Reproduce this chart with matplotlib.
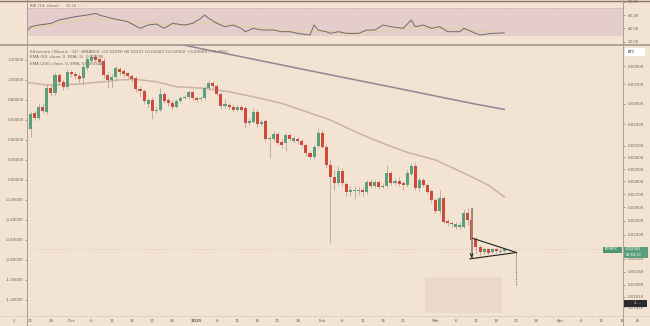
import numpy as np
import pandas as pd
import matplotlib
matplotlib.use("Agg")
import matplotlib.pyplot as plt
import matplotlib.dates as mdates
from matplotlib.ticker import NullLocator
from matplotlib.lines import Line2D
from matplotlib.patches import Rectangle

# daily ETH/BTC candles, first candle 2024-11-20
first_day = pd.Timestamp("2024-11-20")
opens = [
    0.03360, 0.03255, 0.03408, 0.03360, 0.03468, 0.03418, 0.03663, 0.03610, 0.03802, 0.03726,
    0.03673, 0.03835, 0.03813, 0.03791, 0.03769, 0.03880, 0.03958, 0.04004, 0.03981, 0.03958,
    0.03802, 0.03748, 0.03780, 0.03868, 0.03846, 0.03824, 0.03791, 0.03769, 0.03652, 0.03631,
    0.03498, 0.03538, 0.03428, 0.03438, 0.03600, 0.03538, 0.03508, 0.03468, 0.03528, 0.03559,
    0.03569, 0.03621, 0.03559, 0.03548, 0.03559, 0.03663, 0.03716, 0.03684, 0.03600, 0.03478,
    0.03488, 0.03468, 0.03438, 0.03468, 0.03458, 0.03312, 0.03322, 0.03418, 0.03303, 0.03331,
    0.03163, 0.03163, 0.03209, 0.03136, 0.03127, 0.03200, 0.03145, 0.03163, 0.03145, 0.03109,
    0.03038, 0.03004, 0.03100, 0.03218, 0.03091, 0.02935, 0.02836, 0.02787, 0.02885, 0.02779,
    0.02716, 0.02724, 0.02724, 0.02732, 0.02716, 0.02795, 0.02763, 0.02795, 0.02755, 0.02763,
    0.02868, 0.02787, 0.02803, 0.02787, 0.02771, 0.02860, 0.02927, 0.02748, 0.02811, 0.02771,
    0.02724, 0.02654, 0.02572, 0.02670, 0.02499, 0.02485, 0.02456, 0.02456, 0.02456, 0.02557,
    0.02506, 0.02373, 0.02319, 0.02286, 0.02305, 0.02286, 0.02305, 0.02286, 0.02290,
]
highs = [
    0.03379, 0.03428, 0.03428, 0.03498, 0.03508, 0.03705, 0.03694, 0.03835, 0.03824, 0.03748,
    0.03868, 0.03857, 0.03835, 0.03824, 0.03924, 0.04004, 0.04038, 0.04038, 0.04015, 0.03992,
    0.03835, 0.03813, 0.03902, 0.03891, 0.03868, 0.03846, 0.03813, 0.03791, 0.03684, 0.03652,
    0.03559, 0.03569, 0.03478, 0.03663, 0.03621, 0.03559, 0.03538, 0.03548, 0.03579, 0.03589,
    0.03641, 0.03641, 0.03579, 0.03579, 0.03684, 0.03748, 0.03737, 0.03705, 0.03621, 0.03548,
    0.03508, 0.03498, 0.03488, 0.03488, 0.03478, 0.03360, 0.03458, 0.03448, 0.03351, 0.03351,
    0.03190, 0.03237, 0.03227, 0.03163, 0.03218, 0.03218, 0.03190, 0.03181, 0.03163, 0.03127,
    0.03056, 0.03109, 0.03265, 0.03246, 0.03118, 0.02978, 0.02893, 0.02927, 0.02910, 0.02795,
    0.02763, 0.02763, 0.02755, 0.02755, 0.02811, 0.02820, 0.02811, 0.02811, 0.02787, 0.02935,
    0.02885, 0.02828, 0.02836, 0.02803, 0.02893, 0.02952, 0.02961, 0.02836, 0.02828, 0.02787,
    0.02740, 0.02670, 0.02732, 0.02685, 0.02513, 0.02499, 0.02492, 0.02492, 0.02586, 0.02594,
    0.02601, 0.02386, 0.02332, 0.02319, 0.02312, 0.02312, 0.02312, 0.02312, 0.02321,
]
lows = [
    0.03227, 0.03181, 0.03341, 0.03341, 0.03408, 0.03399, 0.03579, 0.03589, 0.03694, 0.03641,
    0.03652, 0.03780, 0.03758, 0.03726, 0.03694, 0.03857, 0.03936, 0.03947, 0.03913, 0.03769,
    0.03663, 0.03663, 0.03758, 0.03802, 0.03780, 0.03758, 0.03726, 0.03621, 0.03579, 0.03498,
    0.03458, 0.03351, 0.03408, 0.03418, 0.03508, 0.03478, 0.03448, 0.03458, 0.03508, 0.03548,
    0.03548, 0.03538, 0.03518, 0.03528, 0.03538, 0.03641, 0.03663, 0.03579, 0.03448, 0.03458,
    0.03448, 0.03418, 0.03428, 0.03428, 0.03265, 0.03293, 0.03312, 0.03274, 0.03284, 0.03145,
    0.02995, 0.03145, 0.03109, 0.03082, 0.03056, 0.03145, 0.03127, 0.03118, 0.03091, 0.03012,
    0.02986, 0.02986, 0.03082, 0.03082, 0.02910, 0.02346, 0.02732, 0.02771, 0.02763, 0.02685,
    0.02685, 0.02662, 0.02693, 0.02685, 0.02701, 0.02748, 0.02748, 0.02740, 0.02748, 0.02748,
    0.02771, 0.02771, 0.02763, 0.02732, 0.02755, 0.02844, 0.02732, 0.02724, 0.02755, 0.02701,
    0.02631, 0.02557, 0.02549, 0.02477, 0.02463, 0.02456, 0.02442, 0.02442, 0.02449, 0.02470,
    0.02332, 0.02279, 0.02266, 0.02273, 0.02273, 0.02279, 0.02279, 0.02279, 0.02283,
]
closes = [
    0.03246, 0.03399, 0.03360, 0.03468, 0.03428, 0.03663, 0.03610, 0.03802, 0.03726, 0.03673,
    0.03835, 0.03813, 0.03791, 0.03758, 0.03891, 0.03981, 0.04004, 0.03969, 0.03947, 0.03802,
    0.03748, 0.03780, 0.03880, 0.03835, 0.03813, 0.03791, 0.03758, 0.03652, 0.03631, 0.03528,
    0.03538, 0.03428, 0.03438, 0.03600, 0.03528, 0.03508, 0.03468, 0.03528, 0.03559, 0.03569,
    0.03621, 0.03559, 0.03538, 0.03559, 0.03663, 0.03716, 0.03684, 0.03600, 0.03478, 0.03498,
    0.03468, 0.03438, 0.03468, 0.03438, 0.03312, 0.03331, 0.03418, 0.03303, 0.03322, 0.03163,
    0.03172, 0.03209, 0.03127, 0.03109, 0.03200, 0.03163, 0.03172, 0.03145, 0.03109, 0.03038,
    0.03004, 0.03091, 0.03218, 0.03091, 0.02935, 0.02836, 0.02787, 0.02885, 0.02787, 0.02716,
    0.02732, 0.02732, 0.02732, 0.02716, 0.02795, 0.02763, 0.02795, 0.02755, 0.02763, 0.02868,
    0.02787, 0.02803, 0.02779, 0.02771, 0.02868, 0.02927, 0.02748, 0.02811, 0.02771, 0.02716,
    0.02654, 0.02572, 0.02670, 0.02492, 0.02485, 0.02477, 0.02477, 0.02470, 0.02557, 0.02506,
    0.02366, 0.02319, 0.02286, 0.02305, 0.02279, 0.02305, 0.02292, 0.02293, 0.02302,
]

# indicator lines, days counted from 2024-11-21
ema50_days = [-1, 4, 11, 18, 22, 26, 31, 36, 43, 49, 56, 62, 74, 81, 87, 93, 100, 108, 113, 117]
ema50 = [0.03723, 0.03694, 0.03702, 0.03729, 0.03748, 0.03755, 0.03729, 0.03676, 0.03659, 0.03624,
         0.03562, 0.03505, 0.03341, 0.03215, 0.03124, 0.03044, 0.02978, 0.02852, 0.02771, 0.02679]
ema200_days = [30, 40, 50, 60, 70, 80, 90, 100, 110, 117]
ema200 = [0.04220, 0.04122, 0.04026, 0.03932, 0.03840, 0.03751, 0.03665, 0.03579, 0.03496, 0.03444]

rsi_days = [-1, 0, 2, 5, 7, 9, 11, 14, 16, 17, 20, 22, 24, 27, 29, 31, 33, 35, 38, 40,
            42, 43, 44, 46, 48, 50, 52, 53, 55, 57, 60, 62, 64, 66, 69, 70, 71, 73, 74, 76,
            78, 81, 83, 85, 87, 89, 92, 94, 95, 97, 99, 101, 103, 106, 107, 109, 111, 114, 117]
rsi = [35, 42.5, 45, 47.5, 52.5, 55, 57.5, 60, 62.5, 60, 55, 52.5, 50, 40, 45, 46.5, 40, 47.5, 45, 47.5,
       55, 60, 55, 47.5, 42.5, 45, 40, 35, 40, 37.5, 37.5, 35, 35, 32.5, 30, 45, 37.5, 35, 32.5, 35,
       32.5, 32.5, 37.5, 37.5, 45, 42.5, 40, 52.5, 42.5, 45, 40, 42.5, 35, 35, 40, 35, 30, 32.5, 33.26]
rsi_ma_days = [0, 9, 15, 21, 29, 38, 42, 46, 50, 58, 66, 73, 81, 89, 95, 100, 107, 117]
rsi_ma = [40, 50, 55, 52.5, 47.5, 45, 47.5, 50, 45, 40, 35, 35, 33.5, 37.5, 42.5, 42.5, 37.5, 33.5]

price_ticks = [0.03900, 0.03700, 0.03500, 0.03300, 0.03100, 0.03000, 0.02900, 0.02800,
               0.02700, 0.02600, 0.02500, 0.02400, 0.02240, 0.02160, 0.02080, 0.02010, 0.01950]
left_ticks = [1.2, 1.0, 0.8, 0.6, 0.4, 0.2, 0.0, -0.2, -0.4, -0.6, -0.8, -1.0, -1.2]
rsi_ticks = [80, 60, 40, 20]

time_ticks = ["2024-11-21", "2024-11-26", "2024-12-01", "2024-12-06", "2024-12-11", "2024-12-16",
              "2024-12-21", "2024-12-26", "2025-01-01", "2025-01-06", "2025-01-11", "2025-01-16",
              "2025-01-21", "2025-01-26", "2025-02-01", "2025-02-06", "2025-02-11", "2025-02-16",
              "2025-02-21", "2025-03-01", "2025-03-06", "2025-03-11", "2025-03-16", "2025-03-21",
              "2025-03-26", "2025-04-01", "2025-04-06", "2025-04-11", "2025-04-16"]
time_labels = ["21", "26", "Dec", "6", "11", "16", "21", "26", "2025", "6", "11", "16", "21", "26",
               "Feb", "6", "11", "16", "21", "Mar", "6", "11", "16", "21", "26", "Apr", "6", "11", "16"]

# pennant drawing (date, price)
pole = [("2025-03-09 22:00", 0.02594), ("2025-03-09 22:00", 0.02248)]
upper_edge = [("2025-03-10 06:00", 0.02377), ("2025-03-21", 0.02282)]
lower_edge = [("2025-03-09 12:00", 0.02241), ("2025-03-21", 0.02282)]
target = [("2025-03-21", 0.02282), ("2025-03-21", 0.02079)]

BG = "#f2e3d2"
GREEN = "#5a9e7b"
RED = "#d04a3c"
WICK = "#b3a59a"
TXT = "#6e655e"
AXLINE = "#a89e96"

W, H = 650, 326
fig = plt.figure(figsize=(W / 100, H / 100), dpi=100, facecolor=BG)


def fx(px):
    return px / W


def fy(py):
    return 1 - py / H


day0 = mdates.date2num(pd.Timestamp("2024-11-21"))
xlim = (day0 - 0.914, day0 + 146.32)

# main price pane
ax = fig.add_axes([fx(27), fy(316), fx(623) - fx(27), fy(45) - fy(316)], facecolor=BG)
ax.set_yscale("log")
ax.set_xlim(*xlim)
ax.set_ylim(0.019013, 0.041446)

dates = pd.date_range(first_day, periods=len(opens), freq="D")
x = mdates.date2num(dates)
o = np.array(opens)
c = np.array(closes)
hi = np.array(highs)
lo = np.array(lows)
up = c >= o
ax.vlines(x, lo, hi, color=WICK, lw=0.6, zorder=3)
bottom = np.minimum(o, c)
height = np.maximum(np.abs(c - o), bottom * 0.0012)
ax.bar(x, height, bottom=bottom, width=0.75, color=np.where(up, GREEN, RED), linewidth=0, zorder=4)

ax.plot(day0 + np.array(ema50_days), ema50, color="#c8b4a4", lw=1.1, zorder=2)
ax.plot(day0 + np.array(ema200_days), ema200, color="#8f8796", lw=1.1, zorder=2)

# last price line
ax.axhline(closes[-1], color="#dcc3bb", lw=0.6, ls=(0, (1, 1.5)), zorder=1)


def dn(p):
    return mdates.date2num(pd.Timestamp(p[0])), p[1]


# pennant
p0, p1 = dn(pole[0]), dn(pole[1])
ax.plot([p0[0], p1[0]], [p0[1], p1[1]], color="#9c8477", lw=1.3, zorder=5, solid_capstyle="butt")
ax.annotate("", xy=p1, xytext=(p1[0], p1[1] * 1.012),
            arrowprops=dict(arrowstyle="->", color="#222222", lw=0.8, mutation_scale=5), zorder=6)
for edge in (upper_edge, lower_edge):
    a, b = dn(edge[0]), dn(edge[1])
    ax.plot([a[0], b[0]], [a[1], b[1]], color="#222222", lw=0.8, zorder=6)
t0, t1 = dn(target[0]), dn(target[1])
ax.plot([t0[0], t1[0]], [t0[1], t1[1]], color="#444444", lw=0.6, ls=(0, (1, 1.2)), zorder=6)

ax.set_xticks([mdates.date2num(pd.Timestamp(d)) for d in time_ticks])
ax.set_xticklabels(time_labels)
ax.tick_params(axis="x", labelsize=3.0, colors=TXT, length=0, pad=2.2)
for lab in ax.get_xticklabels():
    if lab.get_text() == "2025":
        lab.set_fontweight("bold")
for s in ax.spines.values():
    s.set_visible(False)

# left percent scale (twinx moves the parent's ticks, so set the right scale afterwards)
axl = ax.twinx()
axl.set_ylim(-1.36, 1.35)
axl.yaxis.tick_left()
axl.set_yticks(left_ticks)
axl.set_yticklabels([f"{v:.5f}" for v in left_ticks])
axl.tick_params(axis="y", labelsize=2.9, colors=TXT, length=1.2, width=0.4, pad=1.2)
for s in axl.spines.values():
    s.set_visible(False)

ax.yaxis.tick_right()
ax.yaxis.set_label_position("right")
ax.yaxis.set_minor_locator(NullLocator())
ax.set_yticks(price_ticks)
ax.set_yticklabels([f"{v:.5f}" for v in price_ticks])
ax.tick_params(axis="y", which="both", left=False, labelleft=False, right=True, labelright=True,
               labelsize=2.9, colors=TXT, length=1.2, width=0.4, pad=2.5)

# RSI pane
axr = fig.add_axes([fx(27), fy(44), fx(623) - fx(27), fy(0) - fy(44)], facecolor=BG)
axr.set_xlim(*xlim)
axr.set_ylim(16.55, 82.55)
axr.axhspan(30, 70, color="#e5cdcc", lw=0, zorder=0)
for lvl in (70, 30):
    axr.axhline(lvl, color="#9e9090", lw=0.5, ls=(0, (1, 2)), zorder=1)
axr.plot(day0 + np.array(rsi_ma_days), rsi_ma, color="#e2cfa2", lw=1.0, zorder=2)
axr.plot(day0 + np.array(rsi_days), rsi, color="#6f6a6a", lw=0.7, zorder=3)
axr.set_xticks([])
axr.yaxis.tick_right()
axr.set_yticks(rsi_ticks)
axr.set_yticklabels([f"{v:.2f}" for v in rsi_ticks])
axr.tick_params(axis="y", labelsize=2.9, colors=TXT, length=1.2, width=0.4, pad=2.5)
for s in axr.spines.values():
    s.set_visible(False)

# frame lines
fig.add_artist(Line2D([0, 1], [fy(0.5), fy(0.5)], color="#8c7566", lw=1.0))
fig.add_artist(Line2D([0, 1], [fy(44.5), fy(44.5)], color="#a3988f", lw=1.2))
fig.add_artist(Line2D([0, 1], [fy(316), fy(316)], color="#b0a69c", lw=0.5, ls=(0, (1, 1.5))))
fig.add_artist(Line2D([fx(27), fx(27)], [0, 1], color=AXLINE, lw=0.7))
fig.add_artist(Line2D([fx(623), fx(623)], [0, 1], color=AXLINE, lw=0.7))

# shaded box
fig.add_artist(Rectangle((fx(425), fy(312.7)), fx(501.7) - fx(425), fy(276.7) - fy(312.7),
                         color="#ead9cb", lw=0, zorder=1))

# legends
fig.text(fx(30), fy(5.7), "RSI (14, close)", fontsize=2.9, color=TXT, va="center")
fig.text(fx(66), fy(5.7), "33.26", fontsize=2.9, color="#857a92", va="center")
fig.text(fx(77), fy(5.7), "33.53", fontsize=2.9, color="#dccaa0", va="center")
fig.text(fx(30), fy(51.7), "Ethereum / Bitcoin · 1D · BINANCE  O0.02290 H0.02321 L0.02283 C0.02302 +0.00009 (+0.39%)",
         fontsize=3.0, color=TXT, va="center")
fig.text(fx(30), fy(57.4), "EMA (50, close, 0, EMA, 5)  0.02679", fontsize=3.0, color=TXT, va="center")
fig.text(fx(30), fy(63.8), "EMA (200, close, 0, EMA, 5)  0.03444", fontsize=3.0, color=TXT, va="center")

# right scale badges
fig.add_artist(Rectangle((fx(625), fy(56)), fx(20), fy(48) - fy(56), color="white", lw=0, zorder=5))
fig.text(fx(628), fy(52), "BTC", fontsize=2.8, color="#333333", va="center", zorder=6)
fig.add_artist(Rectangle((fx(603), fy(252.5)), fx(19), fy(246.5) - fy(252.5), color="#4f9670", lw=0, zorder=5))
fig.text(fx(604.5), fy(249.5), "ETHBTC", fontsize=2.5, color="white", va="center", zorder=6)
fig.add_artist(Rectangle((fx(623.5), fy(257.5)), fx(24.5), fy(246.5) - fy(257.5), color="#5a9e7b", lw=0, zorder=5))
fig.text(fx(626), fy(249.3), "0.02302", fontsize=2.7, color="white", va="center", zorder=6)
fig.text(fx(626), fy(254.6), "09:58:30", fontsize=2.5, color="white", va="center", zorder=6)
fig.add_artist(Rectangle((fx(624.3), fy(306.7)), fx(22.4), fy(300) - fy(306.7), color="#2a2a2a", lw=0, zorder=5))
fig.text(fx(637), fy(303.3), "1 ...", fontsize=2.5, color="white", va="center", ha="center", zorder=6)

fig.text(fx(14), fy(321), "2", fontsize=3.0, color=TXT, va="center", ha="center")
fig.text(fx(637.7), fy(321), "A", fontsize=3.0, color=TXT, va="center", ha="center")

fig.savefig("out.png", dpi=100, facecolor=BG)
